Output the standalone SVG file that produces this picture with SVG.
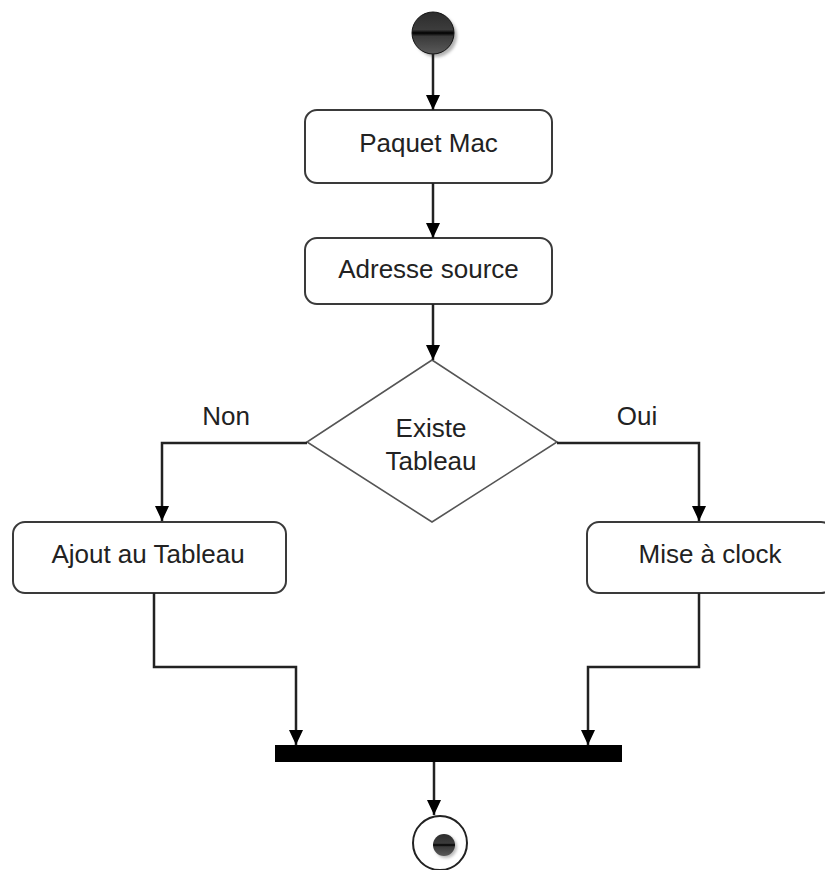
<svg xmlns="http://www.w3.org/2000/svg" width="825" height="870" viewBox="0 0 825 870">
  <style>
    .box { fill: #ffffff; stroke: #3a3a3a; stroke-width: 2; }
    .decision { fill: #ffffff; stroke: #555555; stroke-width: 1.6; }
    .label { font-family: "Liberation Sans", Arial, sans-serif; font-size: 26px; fill: #222222; text-anchor: middle; }
    .edge { fill: none; stroke: #222222; stroke-width: 2.5; }
    .arrow { fill: none; stroke: #222222; stroke-width: 2.5; marker-end: url(#head); }
  </style>
  <defs>
    <marker id="head" viewBox="0 0 15 14" refX="15" refY="7" markerWidth="15" markerHeight="14" markerUnits="userSpaceOnUse" orient="auto">
      <path d="M0,0 L15,7 L0,14 Z" fill="#000000"/>
    </marker>
    <linearGradient id="ball" x1="0" y1="0" x2="0" y2="1">
      <stop offset="0" stop-color="#2c2c2c"/>
      <stop offset="0.42" stop-color="#3c3c3c"/>
      <stop offset="0.5" stop-color="#000000"/>
      <stop offset="0.58" stop-color="#3a3a3a"/>
      <stop offset="1" stop-color="#5a5a5a"/>
    </linearGradient>
    <filter id="soft" x="-30%" y="-30%" width="160%" height="160%">
      <feGaussianBlur stdDeviation="1.5"/>
    </filter>
  </defs>

  <!-- initial node -->
  <g id="start">
    <circle cx="436" cy="36" r="21" fill="#666666" opacity="0.5" filter="url(#soft)"/>
    <circle cx="433" cy="33" r="21" fill="url(#ball)" stroke="#111111" stroke-width="1"/>
  </g>

  <g id="paquet-mac">
    <rect class="box" x="305" y="110" width="247" height="73" rx="12"/>
    <text class="label" x="428.5" y="152">Paquet Mac</text>
  </g>

  <g id="adresse-source">
    <rect class="box" x="305" y="238" width="247" height="66" rx="12"/>
    <text class="label" x="428.5" y="278">Adresse source</text>
  </g>

  <g id="existe-tableau">
    <polygon class="decision" points="432,360 557,442 432,522 307,442"/>
    <text class="label" x="431" y="437">Existe</text>
    <text class="label" x="431" y="470">Tableau</text>
  </g>

  <g id="ajout-tableau">
    <rect class="box" x="13" y="522" width="273" height="71" rx="12"/>
    <text class="label" x="148" y="563">Ajout au Tableau</text>
  </g>

  <g id="mise-a-clock">
    <rect class="box" x="587" y="522" width="246" height="71" rx="12"/>
    <text class="label" x="710" y="563">Mise à clock</text>
  </g>

  <g id="join-bar">
    <rect x="275" y="745" width="347" height="17" fill="#000000"/>
  </g>

  <!-- final node -->
  <g id="end">
    <circle cx="440" cy="843" r="27" fill="#ffffff" stroke="#222222" stroke-width="2"/>
    <circle cx="446" cy="847" r="11" fill="#777777" opacity="0.5" filter="url(#soft)"/>
    <circle cx="444" cy="845" r="11" fill="url(#ball)"/>
  </g>

  <g id="connectors">
    <line class="arrow" x1="433" y1="54" x2="433" y2="110"/>
    <line class="arrow" x1="433" y1="183" x2="433" y2="238"/>
    <line class="arrow" x1="433" y1="304" x2="433" y2="360"/>
    <polyline class="arrow" points="307,443 162,443 162,521"/>
    <polyline class="arrow" points="557,443 699,443 699,521"/>
    <polyline class="arrow" points="154,593 154,667 296,667 296,745"/>
    <polyline class="arrow" points="699,593 699,667 588,667 588,745"/>
    <line class="arrow" x1="434" y1="762" x2="434" y2="815"/>
    <text class="label" x="226" y="425">Non</text>
    <text class="label" x="637" y="425">Oui</text>
  </g>
</svg>
